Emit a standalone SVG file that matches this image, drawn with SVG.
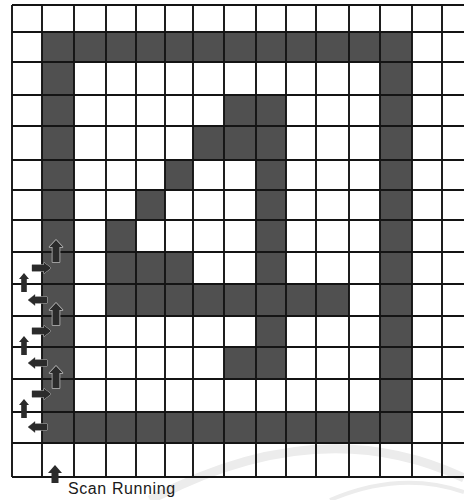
<svg xmlns="http://www.w3.org/2000/svg" width="464" height="500" viewBox="0 0 464 500">
<style>
.dk{fill:#505050}
.gl{stroke:#141414;stroke-width:1.9;fill:none}
.lbl{font-family:"Liberation Sans",Arial,sans-serif;font-size:16px;fill:#1a1a1a;letter-spacing:0.6px}
</style>
<defs>
<path id="upB" fill="#2b2b2b" stroke="#b8b8b8" stroke-width="1.6" paint-order="stroke" stroke-linejoin="round" d="M0,0 L6.5,7 L3.5,7 L3.5,22 L-3.5,22 L-3.5,7 L-6.5,7 Z"/>
<path id="upS" fill="#2b2b2b" d="M0,0 L5,6 L2.8,6 L2.8,19 L-2.8,19 L-2.8,6 L-5,6 Z"/>
<path id="rt" fill="#2b2b2b" stroke="#b8b8b8" stroke-width="1" paint-order="stroke" stroke-linejoin="round" d="M0,0 L-7,-5.5 L-7,-3.2 L-19,-3.2 L-19,3.2 L-7,3.2 L-7,5.5 Z"/>
<path id="lt" fill="#2b2b2b" stroke="#b8b8b8" stroke-width="1" paint-order="stroke" stroke-linejoin="round" d="M0,0 L7,-5.5 L7,-3.2 L19,-3.2 L19,3.2 L7,3.2 L7,5.5 Z"/>
</defs>
<rect width="464" height="500" fill="#fff"/>
<g id="watermark" fill="none" stroke="#ececec">
<path d="M150,500 Q320,410 464,478" stroke-width="9"/>
<path d="M330,500 Q400,470 464,492" stroke-width="4"/>
</g>
<g id="frame">
<rect class="dk" x="42" y="32" width="370" height="30"/>
<rect class="dk" x="42" y="32" width="32" height="411"/>
<rect class="dk" x="380" y="32" width="32" height="411"/>
<rect class="dk" x="42" y="412" width="370" height="31"/>
</g>
<g id="figure">
<rect class="dk" x="224" y="95" width="62" height="31"/>
<rect class="dk" x="193" y="126" width="93" height="34"/>
<rect class="dk" x="256" y="95" width="30" height="284"/>
<rect class="dk" x="165" y="160" width="28" height="30"/>
<rect class="dk" x="136" y="190" width="29" height="30"/>
<rect class="dk" x="106" y="220" width="30" height="32"/>
<rect class="dk" x="106" y="252" width="87" height="32"/>
<rect class="dk" x="106" y="284" width="243" height="32"/>
<rect class="dk" x="224" y="347" width="62" height="32"/>
</g>
<g id="grid" class="gl">
<path d="M12,5H464 M12,32H464 M12,62H464 M12,95H464 M12,126H464 M12,160H464 M12,190H464 M12,220H464 M12,252H464 M12,284H464 M12,316H464 M12,347H464 M12,379H464 M12,412H464 M12,443H464 M12,477H464"/>
<path d="M12,5V477 M42,5V477 M74,5V477 M106,5V477 M136,5V477 M165,5V477 M193,5V477 M224,5V477 M256,5V477 M286,5V477 M316,5V477 M349,5V477 M380,5V477 M412,5V477 M442,5V477"/>
</g>
<g id="connectors">
<use href="#upB" x="56" y="240"/>
<use href="#rt" x="51" y="268"/>
<use href="#upS" x="24" y="273"/>
<use href="#lt" x="28" y="300"/>
<use href="#upB" x="56" y="303"/>
<use href="#rt" x="51" y="331"/>
<use href="#upS" x="24" y="336"/>
<use href="#lt" x="28" y="363"/>
<use href="#upB" x="56" y="366"/>
<use href="#rt" x="51" y="394"/>
<use href="#upS" x="24" y="399"/>
<use href="#lt" x="28" y="427"/>
<path fill="#2b2b2b" d="M55,465 L62,473 L58.5,473 L58.5,483 L51.5,483 L51.5,473 L48,473 Z"/>
</g>
<g id="label">
<text class="lbl" x="68" y="494">Scan Running</text>
</g>
</svg>
